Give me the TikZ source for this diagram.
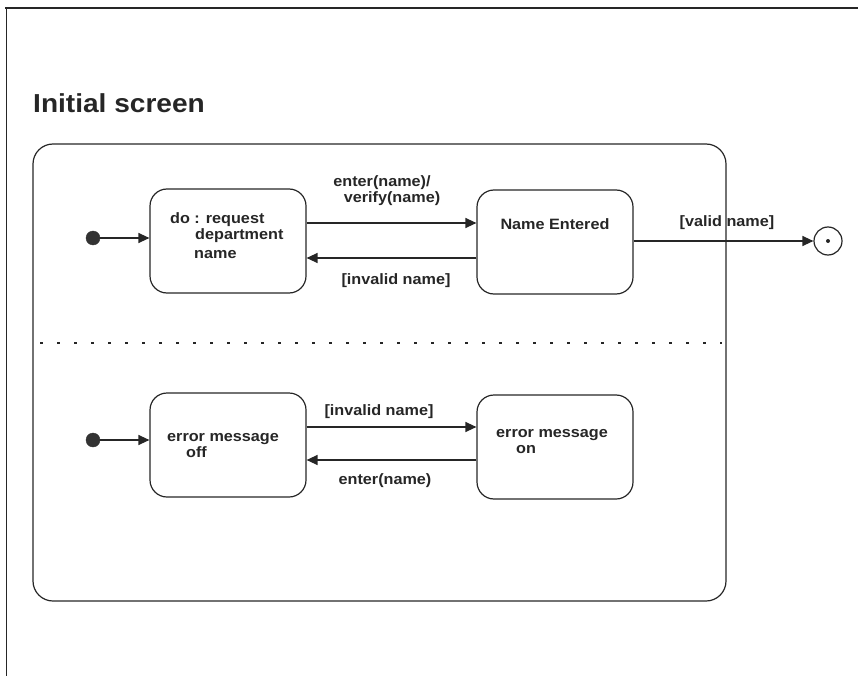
\documentclass[tikz,border=0pt]{standalone}
\usepackage{fontspec}
\setmainfont{Liberation Sans}[FakeStretch=1.08]
\usetikzlibrary{arrows.meta}
\begin{document}
\begin{tikzpicture}[x=1pt,y=-1pt,
  ink/.style={draw=black!85},
  statebox/.style={ink,line width=1.2pt,rounded corners=17pt,minimum width=156pt,minimum height=104pt,inner sep=0pt},
  lbl/.style={font=\fontsize{15}{17}\selectfont\bfseries,inner sep=0pt,text=black!85},
  trans/.style={ink,line width=1.3pt,-{Triangle[length=11pt,width=10pt]}},
  startdot/.style={circle,fill=black!80,draw=black!80,minimum size=14pt,inner sep=0pt},
]
\useasboundingbox (0,0) rectangle (858,676);
% page frame (top and left edges)
\draw[ink,line width=1.2pt] (5,8) -- (858,8);
\draw[ink,line width=1pt] (6,8) -- (6,676);

% title
\node[lbl,anchor=west,font=\fontsize{26}{28}\selectfont\bfseries] (title) at (33,103) {Initial screen};

% composite state with its two concurrent regions
\draw[ink,line width=1.2pt,rounded corners=20pt] (33,144) rectangle (726,601);
\draw[black!85,line width=1.6pt,dash pattern=on 3pt off 14pt] (40,343) -- (722,343);

% upper region
\node[startdot] (s1) at (93,238) {};
\node[statebox] (b1) at (228,241) {};
\node[statebox] (b2) at (555,242) {};
\node[circle,ink,line width=1.2pt,minimum size=28pt,inner sep=0pt] (fin) at (828,241) {};
\fill[black!85] (fin.center) circle (2pt);

\node[lbl,anchor=base west] (t1a) at (170,223) {do : request};
\node[lbl,anchor=base west] (t1b) at (195,240) {department};
\node[lbl,anchor=base west] (t1c) at (194,258) {name};
\node[lbl] (t2) at (555,224) {Name Entered};

\draw[trans] (s1) -- (b1.west |- s1);
\draw[trans] ([yshift=18pt]b1.east) -- ([yshift=18pt]b1.east -| b2.west);
\draw[trans] ([yshift=-16pt]b2.west) -- ([yshift=-16pt]b2.west -| b1.east);
\draw[trans] (b2.east |- fin) -- (fin.west);

\node[lbl] (e1a) at (382,183) {enter(name)/};
\node[lbl] (e1b) at (392,199) {verify(name)};
\node[lbl] (e2) at (396,281) {[invalid name]};
\node[lbl] (e3) at (727,223) {[valid name]};

% lower region
\node[startdot] (s2) at (93,440) {};
\node[statebox] (b3) at (228,445) {};
\node[statebox] (b4) at (555,447) {};

\node[lbl,anchor=base west] (t3a) at (167,441) {error message};
\node[lbl,anchor=base west] (t3b) at (186,457) {off};
\node[lbl,anchor=base west] (t4a) at (496,437) {error message};
\node[lbl,anchor=base west] (t4b) at (516,453) {on};

\draw[trans] (s2) -- (b3.west |- s2);
\draw[trans] ([yshift=18pt]b3.east) -- ([yshift=18pt]b3.east -| b4.west);
\draw[trans] ([yshift=-13pt]b4.west) -- ([yshift=-13pt]b4.west -| b3.east);

\node[lbl] (e4) at (379,412) {[invalid name]};
\node[lbl] (e5) at (385,481) {enter(name)};
\end{tikzpicture}
\end{document}
